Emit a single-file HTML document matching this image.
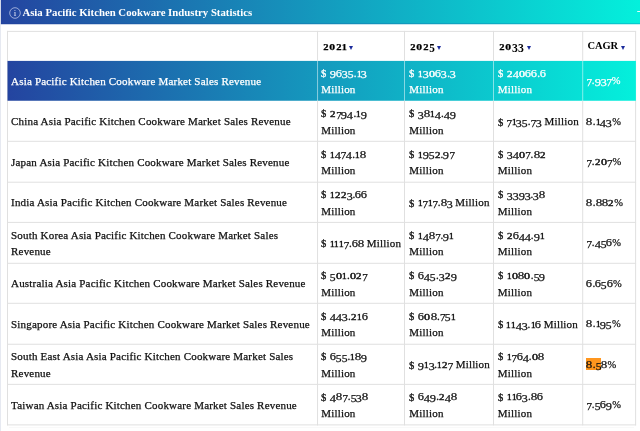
<!DOCTYPE html>
<html>
<head>
<meta charset="utf-8">
<title>Asia Pacific Kitchen Cookware Industry Statistics</title>
<style>
html,body{margin:0;padding:0;}
body{width:640px;height:431px;overflow:hidden;background:#fff;position:relative;font-family:"Liberation Serif",serif;color:#111;}
svg.g{position:absolute;left:0;top:0;}
.ic{position:absolute;left:8.5px;top:6.5px;}
.t{position:absolute;left:22.4px;top:5.6px;font-weight:bold;font-size:10.78px;line-height:13px;color:#fff;white-space:nowrap;}
.c{position:absolute;display:flex;align-items:center;font-size:11.0px;line-height:16.6px;white-space:nowrap;letter-spacing:0.19px;-webkit-text-stroke:0.25px currentColor;}
.c.w{color:#fff;}
.c.hd{font-weight:bold;color:#000;-webkit-text-stroke:0;font-size:12.2px;letter-spacing:0;}
.c.hd.cg{font-size:10.5px;letter-spacing:-0.1px;}
.a{display:inline-block;width:0;height:0;border-left:2.45px solid transparent;border-right:2.45px solid transparent;border-top:4.4px solid #1c2c9c;margin-left:3.1px;vertical-align:0.3px;}
.cg .a{vertical-align:-0.5px;margin-left:2.6px;}
.m{background:#ff961e;padding-bottom:0.5px;}
b.p{font-size:0.95em;}
.s1{word-spacing:-0.4px;}
b{font-weight:inherit;}
b.x,b.d,b.g{display:inline-block;line-height:1;text-align:center;}
b.x{font-size:0.75em;-webkit-text-stroke:0.4px currentColor;}
.hd b.x{-webkit-text-stroke:0.25px currentColor;}
b.d{position:relative;top:0.17em;}
b.u{display:inline-block;font-size:0.86em;line-height:1;width:6.1px;text-align:left;transform-origin:left center;transform:scaleX(1.12);position:relative;top:0.04em;}
b.n0{width:6.51px;transform:scaleX(1.462);}
b.n1{width:4.61px;transform:scaleX(1.120);}
b.n2{width:5.91px;transform:scaleX(1.331);}
b.n3{width:5.86px;transform:scaleX(1.100);}
b.n4{width:6.01px;transform:scaleX(1.127);}
b.n5{width:5.61px;transform:scaleX(1.055);}
b.n6{width:6.01px;transform:scaleX(1.127);}
b.n7{width:5.31px;transform:scaleX(1.000);}
b.n8{width:6.31px;transform:scaleX(1.182);}
b.n9{width:6.01px;transform:scaleX(1.127);}
.hd b.n0{width:6.5px;transform:scaleX(1.279);}
.hd b.n1{width:4.5px;transform:scaleX(1.120);}
.hd b.n2{width:5.9px;transform:scaleX(1.161);}
.hd b.n3{width:5.9px;transform:scaleX(0.967);}
.hd b.n4{width:6.0px;transform:scaleX(0.984);}
.hd b.n5{width:5.6px;transform:scaleX(0.918);}
.hd b.n6{width:6.0px;transform:scaleX(0.984);}
.hd b.n7{width:5.4px;transform:scaleX(0.885);}
.hd b.n8{width:6.3px;transform:scaleX(1.033);}
.hd b.n9{width:6.0px;transform:scaleX(0.984);}
</style>
</head>
<body>
<svg class="g" width="640" height="431" viewBox="0 0 640 431">
<defs><linearGradient id="gr" x1="0" y1="0" x2="1" y2="0"><stop offset="0" stop-color="#2444a0"/><stop offset="1" stop-color="#04f0dc"/></linearGradient></defs>
<rect x="0" y="0" width="0.85" height="431" fill="#e2e6ef"/>
<rect x="0.9" y="0" width="639.1" height="24.2" fill="url(#gr)"/>
<rect x="0.9" y="23.2" width="639.1" height="1" fill="#1a3a9a" opacity="0.25"/>
<rect x="637.2" y="11" width="2.8" height="1" fill="#e6fbf8"/>
<rect x="7.0" y="30.90" width="629.10" height="1" fill="#e0e0e0"/>
<rect x="7.0" y="140.80" width="629.10" height="1" fill="#e0e0e0"/>
<rect x="7.0" y="181.70" width="629.10" height="1" fill="#e0e0e0"/>
<rect x="7.0" y="221.90" width="629.10" height="1" fill="#e0e0e0"/>
<rect x="7.0" y="262.80" width="629.10" height="1" fill="#e0e0e0"/>
<rect x="7.0" y="302.80" width="629.10" height="1" fill="#e0e0e0"/>
<rect x="7.0" y="343.75" width="629.10" height="1" fill="#e0e0e0"/>
<rect x="7.0" y="383.85" width="629.10" height="1" fill="#e0e0e0"/>
<rect x="7.0" y="424.40" width="629.10" height="1" fill="#e0e0e0"/>
<rect x="7.0" y="30.9" width="1" height="394.50" fill="#e0e0e0"/>
<rect x="635.1" y="30.9" width="1" height="394.50" fill="#e0e0e0"/>
<rect x="7.5" y="60.9" width="628.40" height="39.85" fill="url(#gr)"/>
<rect x="317.05" y="30.9" width="1" height="30.00" fill="#e0e0e0"/>
<rect x="317.05" y="60.9" width="1" height="39.85" fill="#ffffff" opacity="0.5"/>
<rect x="317.05" y="100.75" width="1" height="324.65" fill="#e0e0e0"/>
<rect x="404.0" y="30.9" width="1" height="30.00" fill="#e0e0e0"/>
<rect x="404.0" y="60.9" width="1" height="39.85" fill="#ffffff" opacity="0.5"/>
<rect x="404.0" y="100.75" width="1" height="324.65" fill="#e0e0e0"/>
<rect x="493.0" y="30.9" width="1" height="30.00" fill="#e0e0e0"/>
<rect x="493.0" y="60.9" width="1" height="39.85" fill="#ffffff" opacity="0.5"/>
<rect x="493.0" y="100.75" width="1" height="324.65" fill="#e0e0e0"/>
<rect x="582.2" y="30.9" width="1" height="30.00" fill="#e0e0e0"/>
<rect x="582.2" y="60.9" width="1" height="39.85" fill="#ffffff" opacity="0.5"/>
<rect x="582.2" y="100.75" width="1" height="324.65" fill="#e0e0e0"/>
<rect x="9.0" y="427.00" width="625.10" height="1" fill="#f9f9f9"/>
</svg>
<svg class="ic" width="12" height="12" viewBox="0 0 12 12"><circle cx="6" cy="6" r="5.3" fill="none" stroke="#c3cbea" stroke-width="0.75"/><text x="6" y="9.3" font-family="Liberation Serif, serif" font-size="9" fill="#e6e9f6" text-anchor="middle">i</text></svg>
<div class="t">Asia Pacific Kitchen Cookware Industry Statistics</div>
<div class="c hd" style="left:323.30px;top:31.90px;width:83.20px;height:29.00px"><span><b class="x n2">2</b><b class="x n0">0</b><b class="x n2">2</b><b class="x n1">1</b><i class="a"></i></span></div>
<div class="c hd" style="left:410.25px;top:31.90px;width:85.25px;height:29.00px"><span><b class="x n2">2</b><b class="x n0">0</b><b class="x n2">2</b><b class="d n5">5</b><i class="a"></i></span></div>
<div class="c hd" style="left:499.25px;top:31.90px;width:85.45px;height:29.00px"><span><b class="x n2">2</b><b class="x n0">0</b><b class="d n3">3</b><b class="d n3">3</b><i class="a"></i></span></div>
<div class="c hd cg" style="left:587.45px;top:31.90px;width:49.15px;height:29.00px"><span>CAGR<i class="a"></i></span></div>
<div class="c w" style="left:11.05px;top:61.30px;width:306.30px;height:39.85px"><span>Asia Pacific Kitchen Cookware Market Sales Revenue</span></div>
<div class="c w" style="left:321.20px;top:61.30px;width:83.20px;height:39.85px"><span><b class="u">$</b> <b class="d n9">9</b><b class="g n6">6</b><b class="d n3">3</b><b class="d n5">5</b>.<b class="x n1">1</b><b class="d n3">3</b><br>Million</span></div>
<div class="c w" style="left:409.25px;top:61.30px;width:85.25px;height:39.85px"><span><b class="u">$</b> <b class="x n1">1</b><b class="d n3">3</b><b class="x n0">0</b><b class="g n6">6</b><b class="d n3">3</b>.<b class="d n3">3</b><br>Million</span></div>
<div class="c w" style="left:497.85px;top:61.30px;width:85.45px;height:39.85px"><span><b class="u">$</b> <b class="x n2">2</b><b class="d n4">4</b><b class="x n0">0</b><b class="g n6">6</b><b class="g n6">6</b>.<b class="g n6">6</b><br>Million</span></div>
<div class="c w" style="left:586.45px;top:61.30px;width:49.15px;height:39.85px"><span><b class="d n7">7</b>.<b class="d n9">9</b><b class="d n3">3</b><b class="d n7">7</b><b class="p">%</b></span></div>
<div class="c" style="left:11.05px;top:101.45px;width:306.30px;height:40.25px"><span>China Asia Pacific Kitchen Cookware Market Sales Revenue</span></div>
<div class="c" style="left:321.20px;top:101.45px;width:83.20px;height:40.25px"><span><b class="u">$</b> <b class="x n2">2</b><b class="d n7">7</b><b class="d n9">9</b><b class="d n4">4</b>.<b class="x n1">1</b><b class="d n9">9</b><br>Million</span></div>
<div class="c" style="left:409.25px;top:101.45px;width:85.25px;height:40.25px"><span><b class="u">$</b> <b class="d n3">3</b><b class="g n8">8</b><b class="x n1">1</b><b class="d n4">4</b>.<b class="d n4">4</b><b class="d n9">9</b><br>Million</span></div>
<div class="c" style="left:497.85px;top:101.45px;width:85.45px;height:40.25px"><span><span class="s1"><b class="u">$</b> <b class="d n7">7</b><b class="x n1">1</b><b class="d n3">3</b><b class="d n5">5</b>.<b class="d n7">7</b><b class="d n3">3</b> Million</span></span></div>
<div class="c" style="left:586.45px;top:101.45px;width:49.15px;height:40.25px"><span><b class="g n8">8</b>.<b class="x n1">1</b><b class="d n4">4</b><b class="d n3">3</b><b class="p">%</b></span></div>
<div class="c" style="left:11.05px;top:141.70px;width:306.30px;height:40.90px"><span>Japan Asia Pacific Kitchen Cookware Market Sales Revenue</span></div>
<div class="c" style="left:321.20px;top:141.70px;width:83.20px;height:40.90px"><span><b class="u">$</b> <b class="x n1">1</b><b class="d n4">4</b><b class="d n7">7</b><b class="d n4">4</b>.<b class="x n1">1</b><b class="g n8">8</b><br>Million</span></div>
<div class="c" style="left:409.25px;top:141.70px;width:85.25px;height:40.90px"><span><b class="u">$</b> <b class="x n1">1</b><b class="d n9">9</b><b class="d n5">5</b><b class="x n2">2</b>.<b class="d n9">9</b><b class="d n7">7</b><br>Million</span></div>
<div class="c" style="left:497.85px;top:141.70px;width:85.45px;height:40.90px"><span><b class="u">$</b> <b class="d n3">3</b><b class="d n4">4</b><b class="x n0">0</b><b class="d n7">7</b>.<b class="g n8">8</b><b class="x n2">2</b><br>Million</span></div>
<div class="c" style="left:586.45px;top:141.70px;width:49.15px;height:40.90px"><span><b class="d n7">7</b>.<b class="x n2">2</b><b class="x n0">0</b><b class="d n7">7</b><b class="p">%</b></span></div>
<div class="c" style="left:11.05px;top:182.60px;width:306.30px;height:40.20px"><span>India Asia Pacific Kitchen Cookware Market Sales Revenue</span></div>
<div class="c" style="left:321.20px;top:182.60px;width:83.20px;height:40.20px"><span><b class="u">$</b> <b class="x n1">1</b><b class="x n2">2</b><b class="x n2">2</b><b class="d n3">3</b>.<b class="g n6">6</b><b class="g n6">6</b><br>Million</span></div>
<div class="c" style="left:409.25px;top:182.60px;width:85.25px;height:40.20px"><span><span class="s1"><b class="u">$</b> <b class="x n1">1</b><b class="d n7">7</b><b class="x n1">1</b><b class="d n7">7</b>.<b class="g n8">8</b><b class="d n3">3</b> Million</span></span></div>
<div class="c" style="left:497.85px;top:182.60px;width:85.45px;height:40.20px"><span><b class="u">$</b> <b class="d n3">3</b><b class="d n3">3</b><b class="d n9">9</b><b class="d n3">3</b>.<b class="d n3">3</b><b class="g n8">8</b><br>Million</span></div>
<div class="c" style="left:586.45px;top:182.60px;width:49.15px;height:40.20px"><span><b class="g n8">8</b>.<b class="g n8">8</b><b class="g n8">8</b><b class="x n2">2</b><b class="p">%</b></span></div>
<div class="c" style="left:11.05px;top:222.80px;width:306.30px;height:40.90px"><span>South Korea Asia Pacific Kitchen Cookware Market Sales<br>Revenue</span></div>
<div class="c" style="left:321.20px;top:222.80px;width:83.20px;height:40.90px"><span><span class="s1"><b class="u">$</b> <b class="x n1">1</b><b class="x n1">1</b><b class="x n1">1</b><b class="d n7">7</b>.<b class="g n6">6</b><b class="g n8">8</b> Million</span></span></div>
<div class="c" style="left:409.25px;top:222.80px;width:85.25px;height:40.90px"><span><b class="u">$</b> <b class="x n1">1</b><b class="d n4">4</b><b class="g n8">8</b><b class="d n7">7</b>.<b class="d n9">9</b><b class="x n1">1</b><br>Million</span></div>
<div class="c" style="left:497.85px;top:222.80px;width:85.45px;height:40.90px"><span><b class="u">$</b> <b class="x n2">2</b><b class="g n6">6</b><b class="d n4">4</b><b class="d n4">4</b>.<b class="d n9">9</b><b class="x n1">1</b><br>Million</span></div>
<div class="c" style="left:586.45px;top:222.80px;width:49.15px;height:40.90px"><span><b class="d n7">7</b>.<b class="d n4">4</b><b class="d n5">5</b><b class="g n6">6</b><b class="p">%</b></span></div>
<div class="c" style="left:11.05px;top:263.70px;width:306.30px;height:40.00px"><span>Australia Asia Pacific Kitchen Cookware Market Sales Revenue</span></div>
<div class="c" style="left:321.20px;top:263.70px;width:83.20px;height:40.00px"><span><b class="u">$</b> <b class="d n5">5</b><b class="x n0">0</b><b class="x n1">1</b>.<b class="x n0">0</b><b class="x n2">2</b><b class="d n7">7</b><br>Million</span></div>
<div class="c" style="left:409.25px;top:263.70px;width:85.25px;height:40.00px"><span><b class="u">$</b> <b class="g n6">6</b><b class="d n4">4</b><b class="d n5">5</b>.<b class="d n3">3</b><b class="x n2">2</b><b class="d n9">9</b><br>Million</span></div>
<div class="c" style="left:497.85px;top:263.70px;width:85.45px;height:40.00px"><span><b class="u">$</b> <b class="x n1">1</b><b class="x n0">0</b><b class="g n8">8</b><b class="x n0">0</b>.<b class="d n5">5</b><b class="d n9">9</b><br>Million</span></div>
<div class="c" style="left:586.45px;top:263.70px;width:49.15px;height:40.00px"><span><b class="g n6">6</b>.<b class="g n6">6</b><b class="d n5">5</b><b class="g n6">6</b><b class="p">%</b></span></div>
<div class="c" style="left:11.05px;top:303.70px;width:306.30px;height:40.95px"><span>Singapore Asia Pacific Kitchen Cookware Market Sales Revenue</span></div>
<div class="c" style="left:321.20px;top:303.70px;width:83.20px;height:40.95px"><span><b class="u">$</b> <b class="d n4">4</b><b class="d n4">4</b><b class="d n3">3</b>.<b class="x n2">2</b><b class="x n1">1</b><b class="g n6">6</b><br>Million</span></div>
<div class="c" style="left:409.25px;top:303.70px;width:85.25px;height:40.95px"><span><b class="u">$</b> <b class="g n6">6</b><b class="x n0">0</b><b class="g n8">8</b>.<b class="d n7">7</b><b class="d n5">5</b><b class="x n1">1</b><br>Million</span></div>
<div class="c" style="left:497.85px;top:303.70px;width:85.45px;height:40.95px"><span><span class="s1"><b class="u">$</b> <b class="x n1">1</b><b class="x n1">1</b><b class="d n4">4</b><b class="d n3">3</b>.<b class="x n1">1</b><b class="g n6">6</b> Million</span></span></div>
<div class="c" style="left:586.45px;top:303.70px;width:49.15px;height:40.95px"><span><b class="g n8">8</b>.<b class="x n1">1</b><b class="d n9">9</b><b class="d n5">5</b><b class="p">%</b></span></div>
<div class="c" style="left:11.05px;top:344.65px;width:306.30px;height:40.10px"><span>South East Asia Asia Pacific Kitchen Cookware Market Sales<br>Revenue</span></div>
<div class="c" style="left:321.20px;top:344.65px;width:83.20px;height:40.10px"><span><b class="u">$</b> <b class="g n6">6</b><b class="d n5">5</b><b class="d n5">5</b>.<b class="x n1">1</b><b class="g n8">8</b><b class="d n9">9</b><br>Million</span></div>
<div class="c" style="left:409.25px;top:344.65px;width:85.25px;height:40.10px"><span><span class="s1"><b class="u">$</b> <b class="d n9">9</b><b class="x n1">1</b><b class="d n3">3</b>.<b class="x n1">1</b><b class="x n2">2</b><b class="d n7">7</b> Million</span></span></div>
<div class="c" style="left:497.85px;top:344.65px;width:85.45px;height:40.10px"><span><b class="u">$</b> <b class="x n1">1</b><b class="d n7">7</b><b class="g n6">6</b><b class="d n4">4</b>.<b class="x n0">0</b><b class="g n8">8</b><br>Million</span></div>
<div class="c" style="left:586.45px;top:344.65px;width:49.15px;height:40.10px"><span><span class="m"><b class="g n8">8</b>.<b class="d n5">5</b></span><b class="g n8">8</b><b class="p">%</b></span></div>
<div class="c" style="left:11.05px;top:384.75px;width:306.30px;height:40.55px"><span>Taiwan Asia Pacific Kitchen Cookware Market Sales Revenue</span></div>
<div class="c" style="left:321.20px;top:384.75px;width:83.20px;height:40.55px"><span><b class="u">$</b> <b class="d n4">4</b><b class="g n8">8</b><b class="d n7">7</b>.<b class="d n5">5</b><b class="d n3">3</b><b class="g n8">8</b><br>Million</span></div>
<div class="c" style="left:409.25px;top:384.75px;width:85.25px;height:40.55px"><span><b class="u">$</b> <b class="g n6">6</b><b class="d n4">4</b><b class="d n9">9</b>.<b class="x n2">2</b><b class="d n4">4</b><b class="g n8">8</b><br>Million</span></div>
<div class="c" style="left:497.85px;top:384.75px;width:85.45px;height:40.55px"><span><b class="u">$</b> <b class="x n1">1</b><b class="x n1">1</b><b class="g n6">6</b><b class="d n3">3</b>.<b class="g n8">8</b><b class="g n6">6</b><br>Million</span></div>
<div class="c" style="left:586.45px;top:384.75px;width:49.15px;height:40.55px"><span><b class="d n7">7</b>.<b class="d n5">5</b><b class="g n6">6</b><b class="d n9">9</b><b class="p">%</b></span></div>
</body>
</html>
